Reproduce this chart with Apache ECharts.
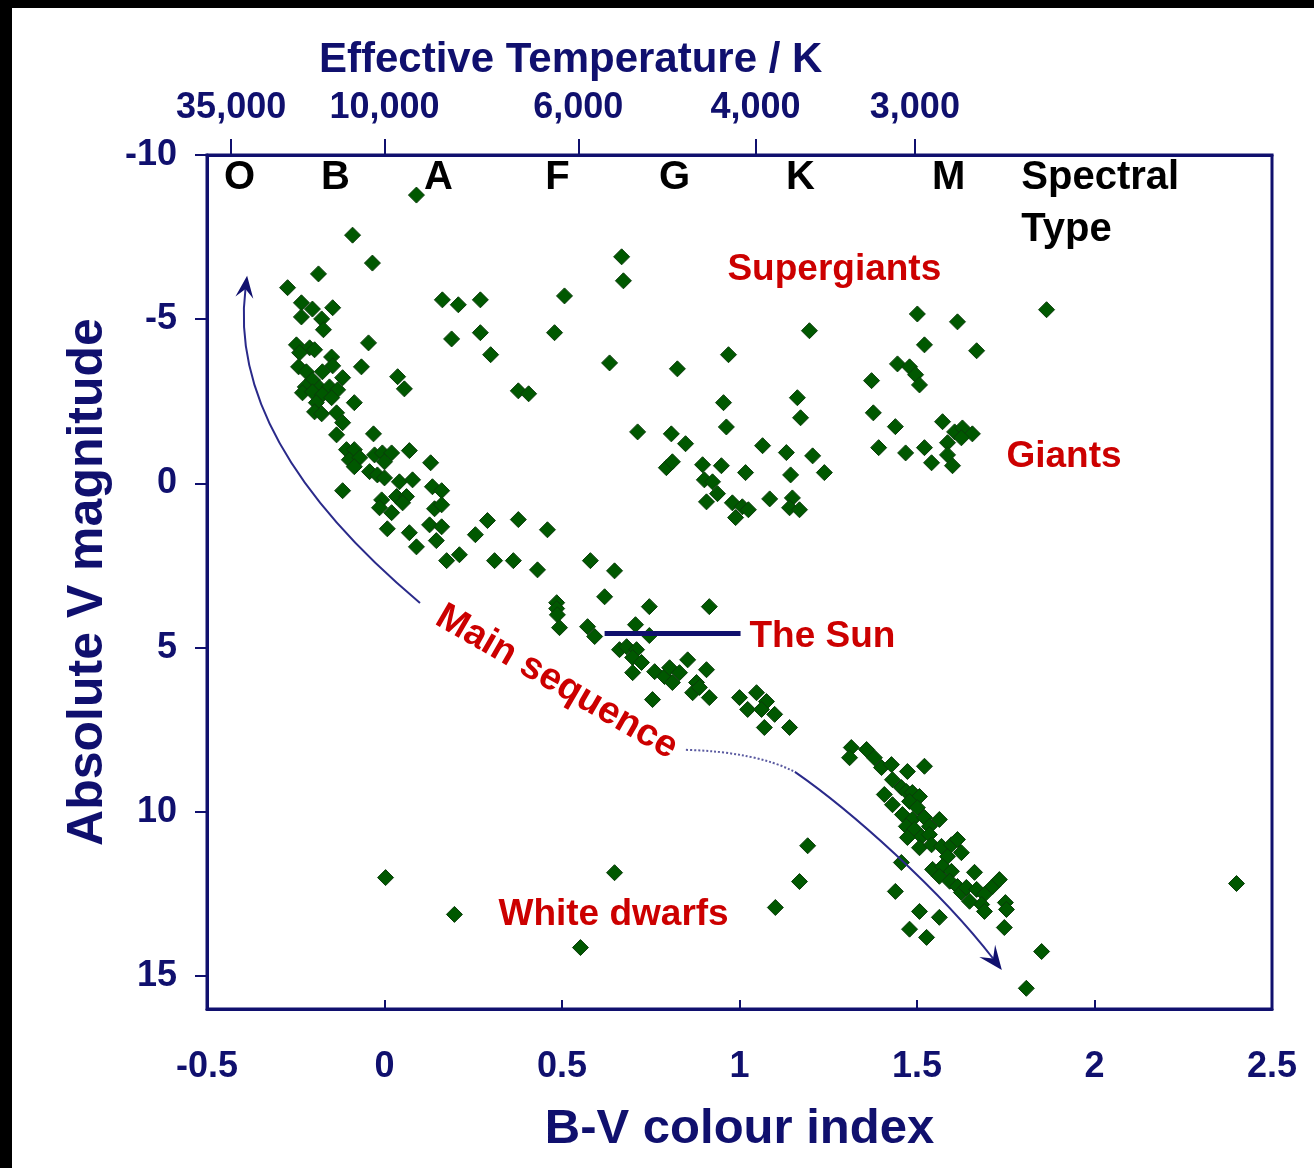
<!DOCTYPE html>
<html><head><meta charset="utf-8">
<script src="https://cdn.jsdelivr.net/npm/echarts@6/dist/echarts.min.js"></script>
<style>
html,body{margin:0;padding:0;background:#000;width:1314px;height:1168px;overflow:hidden}
#chart{position:absolute;left:12px;top:8px;width:1302px;height:1160px;background:#fff}
</style></head><body><div id="chart"></div>
<script>
// ---- data: [B-V colour index, absolute V magnitude] ----
const mainSequence = [
[-0.034,-6.71],[-0.186,-6.38],[-0.273,-5.96],[-0.234,-5.50],[-0.203,-5.31],[-0.146,-5.35],[-0.234,-5.07],[-0.177,-5.01],
[-0.172,-4.68],[-0.045,-4.28],[-0.248,-4.22],[-0.211,-4.13],[-0.197,-4.07],[-0.239,-3.98],[-0.149,-3.85],[-0.065,-3.55],
[-0.242,-3.55],[-0.146,-3.58],[-0.220,-3.40],[-0.175,-3.40],[-0.118,-3.22],[-0.203,-3.15],[-0.223,-2.94],[-0.183,-2.91],
[-0.155,-2.94],[-0.132,-2.85],[0.037,-3.25],[0.056,-2.88],[-0.231,-2.76],[-0.203,-2.79],[-0.175,-2.70],[-0.149,-2.61],
[-0.192,-2.46],[-0.085,-2.46],[-0.197,-2.18],[-0.177,-2.12],[-0.135,-2.15],[-0.118,-1.85],[-0.135,-1.48],[-0.031,-1.51],
[-0.107,-1.03],[-0.085,-1.03],[-0.099,-0.72],[-0.070,-0.78],[-0.085,-0.51],[-0.028,-0.87],[-0.006,-0.93],[0.020,-0.93],
[0.000,-0.66],[-0.042,-0.36],[-0.020,-0.26],[0.000,-0.17],[0.070,-1.00],[0.130,-0.63],[0.042,-0.05],[0.079,-0.11],
[0.135,0.10],[0.161,0.22],[-0.118,0.22],[-0.008,0.50],[0.034,0.40],[0.062,0.40],[-0.014,0.74],[0.020,0.89],
[0.051,0.59],[0.141,0.77],[0.161,0.65],[0.127,1.26],[0.161,1.32],[0.008,1.38],[0.070,1.50],[0.146,1.74],
[0.090,1.93],[0.175,2.35],[0.211,2.17],
[0.290,1.13],[0.256,1.56],[0.377,1.10],[0.459,1.41],[0.310,2.35],[0.363,2.35],[0.431,2.63],[0.580,2.35],
[0.648,2.66],[0.620,3.45],[0.485,3.63],[0.485,3.81],[0.487,4.00],[0.493,4.39],[0.746,3.75],[0.915,3.75],
[0.572,4.36],[0.592,4.66],[0.707,4.30],[0.746,4.63],[0.662,5.06],[0.682,4.97],[0.710,5.06],[0.699,5.30],
[0.724,5.45],[0.699,5.76],[0.761,5.73],[0.789,5.88],[0.803,5.61],[0.831,5.76],[0.811,6.06],[0.854,5.37],
[0.907,5.67],[0.879,6.06],[0.868,6.37],[0.915,6.52],[0.755,6.58],[1.000,6.52],[1.048,6.37],[1.076,6.64],
[1.023,6.88],[1.062,6.88],[1.099,7.03],[1.070,7.43],[1.141,7.43],[0.887,6.21]
];
const brightStars = [
[-0.090,-7.56],[0.090,-8.78],[0.163,-5.59],[0.208,-5.44],[0.189,-4.40],[0.270,-5.59],[0.270,-4.59],[0.299,-3.92],
[0.507,-5.71],[0.479,-4.59],[0.668,-6.90],[0.673,-6.17],[0.634,-3.67],[0.377,-2.82],[0.406,-2.73],[0.825,-3.49],
[0.969,-3.92],[1.197,-4.65],[1.501,-5.16],[1.614,-4.92],[1.865,-5.29],[1.521,-4.22],[1.668,-4.04]
];
const giants = [
[0.713,-1.57],[0.955,-2.46],[1.163,-2.61],[0.963,-1.72],[1.172,-2.00],[0.808,-1.51],[0.848,-1.21],[1.065,-1.15],
[1.132,-0.94],[1.206,-0.84],[0.794,-0.48],[0.811,-0.66],[0.896,-0.57],[0.949,-0.54],[1.017,-0.33],[1.144,-0.26],
[1.239,-0.33],[0.901,-0.11],[0.924,-0.05],[0.938,0.31],[0.907,0.56],[0.980,0.59],[1.008,0.71],[1.025,0.80],
[0.989,1.04],[1.085,0.47],[1.149,0.44],[1.141,0.74],[1.169,0.80],
[1.445,-3.64],[1.479,-3.55],[1.496,-3.31],[1.507,-3.00],[1.372,-3.13],[1.377,-2.15],[1.439,-1.73],[1.572,-1.88],
[1.606,-1.57],[1.628,-1.69],[1.656,-1.51],[1.625,-1.39],[1.392,-1.09],[1.468,-0.93],[1.521,-1.09],[1.586,-1.24],
[1.541,-0.63],[1.586,-0.87],[1.600,-0.54]
];
const redDwarfs = [
[1.315,8.04],[1.310,8.35],[1.358,8.10],[1.380,8.35],[1.400,8.65],[1.428,8.56],[1.431,9.02],[1.473,8.77],
[1.521,8.61],[1.408,9.47],[1.431,9.78],[1.456,9.26],[1.470,9.38],[1.487,9.41],[1.507,9.53],[1.479,9.68],
[1.501,9.87],[1.459,10.08],[1.487,10.23],[1.521,10.17],[1.563,10.23],[1.535,10.44],[1.470,10.44],[1.493,10.53],
[1.513,10.75],[1.535,10.69],[1.473,10.78],[1.507,11.09],[1.541,11.00],[1.569,11.05],[1.597,11.00],[1.614,10.84],
[1.625,11.24],[1.586,11.36],[1.544,11.75],[1.572,11.66],[1.597,11.81],[1.563,11.96],[1.592,12.11],[1.614,12.27],
[1.625,12.45],[1.639,12.30],[1.662,11.84],[1.668,12.36],[1.690,12.51],[1.713,12.27],[1.732,12.06],[1.648,12.72],
[1.682,12.82],[1.690,13.03],[1.749,12.76],[1.752,12.97],[1.746,13.52],[1.456,11.54],[1.439,12.42],[1.507,13.03],
[1.563,13.21],[1.479,13.57],[1.527,13.82],[1.851,14.25],[1.808,15.37]
];
const whiteDwarfs = [
[0.003,12.00],[0.197,13.12],[0.552,14.13],[0.648,11.85],[1.101,12.91],[1.169,12.12],[1.192,11.03],[2.400,12.18]
];

// ---- axes / tick labels ----
const xTicks = [-0.5, 0, 0.5, 1, 1.5, 2, 2.5];
const yTicks = [-10, -5, 0, 5, 10, 15];
const tempLabels = ['35,000', '10,000', '6,000', '4,000', '3,000'];
const tempPositions = [-0.432, 0, 0.546, 1.045, 1.494];

// ---- annotations (data coordinates) ----
const spectralTypes = ['O', 'B', 'A', 'F', 'G', 'K', 'M'];
const spectralPositions = [-0.408, -0.138, 0.152, 0.487, 0.817, 1.172, 1.589];
const spectralRowY = -9.30;
const spectralCaption = ['Spectral', 'Type'];
const spectralCaptionX = 1.794;
const spectralCaptionY = [-9.30, -7.71];
const regionLabels = ['Supergiants', 'Giants', 'The Sun', 'White dwarfs'];
const regionLabelX = [0.966, 1.752, 1.028, 0.321];
const regionLabelY = [-6.50, -0.81, 4.67, 13.12];
const mainSeqLabel = 'Main sequence';
const mainSeqLabelPos = [0.485, 6.05];
const sunLineX = [0.620, 1.003];
const sunLineY = 4.57;
const upperArrow = [[0.100, 3.64], [-0.445, -1.31], [-0.387, -6.32]];
const lowerArrowDotted = [[0.849, 8.11], [1.044, 8.17], [1.156, 8.78]];
const lowerArrowSolid = [[1.156, 8.78], [1.311, 9.94], [1.565, 12.37], [1.739, 14.81]];

const NAVY = '#10106e';
const RED = '#cc0000';
const FONT = '"Liberation Sans", Arial, sans-serif';

const chart = echarts.init(document.getElementById('chart'));

function arrowHead(tip, from, L, W) {
  const dx = tip[0] - from[0], dy = tip[1] - from[1];
  const len = Math.hypot(dx, dy) || 1;
  const ux = dx / len, uy = dy / len, nx = -uy, ny = ux;
  return [
    [tip[0], tip[1]],
    [tip[0] - ux * L + nx * W, tip[1] - uy * L + ny * W],
    [tip[0] - ux * L * 0.6, tip[1] - uy * L * 0.6],
    [tip[0] - ux * L - nx * W, tip[1] - uy * L - ny * W]
  ];
}

function starSeries(name, data) {
  return {
    name: name, type: 'scatter', data: data, symbol: 'diamond', symbolSize: 16,
    itemStyle: { color: '#005800', borderColor: '#0b3d0b', borderWidth: 1, opacity: 1 },
    silent: true, z: 3
  };
}

const annotationSeries = {
  type: 'custom', coordinateSystem: 'cartesian2d', data: [[0, 0]], silent: true, z: 4,
  renderItem: function (params, api) {
    const P = p => api.coord(p);
    const ch = [];
    // Sun marker line
    const s0 = P([sunLineX[0], sunLineY]), s1 = P([sunLineX[1], sunLineY]);
    ch.push({ type: 'line', shape: { x1: s0[0], y1: s0[1], x2: s1[0], y2: s1[1] },
      style: { stroke: NAVY, lineWidth: 5 } });
    // upper arrow (quadratic)
    const a0 = P(upperArrow[0]), a1 = P(upperArrow[1]), a2 = P(upperArrow[2]);
    const ahead = arrowHead(a2, a1, 22, 9);
    const back = ahead[2];
    ch.push({ type: 'bezierCurve', shape: { x1: a0[0], y1: a0[1], cpx1: a1[0], cpy1: a1[1], x2: back[0], y2: back[1] },
      style: { stroke: '#2a2a8a', lineWidth: 2, fill: null } });
    ch.push({ type: 'polygon', shape: { points: ahead }, style: { fill: NAVY } });
    // lower arrow dotted part
    const d0 = P(lowerArrowDotted[0]), d1 = P(lowerArrowDotted[1]), d2 = P(lowerArrowDotted[2]);
    ch.push({ type: 'bezierCurve', shape: { x1: d0[0], y1: d0[1], cpx1: d1[0], cpy1: d1[1], x2: d2[0], y2: d2[1] },
      style: { stroke: '#5a5aa0', lineWidth: 2, lineDash: [2, 2], fill: null } });
    // lower arrow solid part (cubic)
    const c0 = P(lowerArrowSolid[0]), c1 = P(lowerArrowSolid[1]), c2 = P(lowerArrowSolid[2]), c3 = P(lowerArrowSolid[3]);
    const bhead = arrowHead(c3, c2, 24, 10);
    ch.push({ type: 'bezierCurve', shape: { x1: c0[0], y1: c0[1], cpx1: c1[0], cpy1: c1[1], cpx2: c2[0], cpy2: c2[1], x2: bhead[2][0], y2: bhead[2][1] },
      style: { stroke: '#2a2a8a', lineWidth: 2, fill: null } });
    ch.push({ type: 'polygon', shape: { points: bhead }, style: { fill: NAVY } });
    // spectral type letters
    spectralTypes.forEach((t, i) => {
      const p = P([spectralPositions[i], spectralRowY]);
      ch.push({ type: 'text', x: p[0], y: p[1],
        style: { text: t, fill: '#000', font: 'bold 40px ' + FONT, align: 'center', verticalAlign: 'middle' } });
    });
    spectralCaption.forEach((t, i) => {
      const p = P([spectralCaptionX, spectralCaptionY[i]]);
      ch.push({ type: 'text', x: p[0], y: p[1],
        style: { text: t, fill: '#000', font: 'bold 40px ' + FONT, align: 'left', verticalAlign: 'middle' } });
    });
    // region labels
    regionLabels.forEach((t, i) => {
      const p = P([regionLabelX[i], regionLabelY[i]]);
      ch.push({ type: 'text', x: p[0], y: p[1],
        style: { text: t, fill: RED, font: 'bold 37px ' + FONT, align: 'left', verticalAlign: 'middle' } });
    });
    const m = P(mainSeqLabelPos);
    ch.push({ type: 'text', x: m[0], y: m[1], rotation: -30 * Math.PI / 180,
      style: { text: mainSeqLabel, fill: RED, font: 'bold 38px ' + FONT, align: 'center', verticalAlign: 'middle' } });
    return { type: 'group', children: ch };
  }
};

const labelBase = { color: NAVY, fontFamily: FONT, fontWeight: 'bold', fontSize: 36 };

chart.setOption({
  animation: false,
  backgroundColor: '#fff',
  title: {
    text: 'Effective Temperature / K', left: 302, top: 26,
    textStyle: { color: NAVY, fontFamily: FONT, fontWeight: 'bold', fontSize: 42 }
  },
  grid: { left: 195, top: 147, width: 1065, height: 854, show: true, borderColor: NAVY, borderWidth: 3, containLabel: false },
  xAxis: [
    {
      type: 'value', position: 'bottom', min: -0.5, max: 2.5, interval: 0.5,
      name: 'B-V colour index', nameLocation: 'middle', nameGap: 96,
      nameTextStyle: { color: NAVY, fontFamily: FONT, fontWeight: 'bold', fontSize: 49 },
      axisLine: { show: true, onZero: false, lineStyle: { color: NAVY, width: 3 } },
      axisTick: { show: true, inside: true, length: 9, lineStyle: { color: NAVY, width: 2 }, customValues: xTicks },
      axisLabel: Object.assign({ margin: 40, customValues: xTicks }, labelBase),
      splitLine: { show: false }
    },
    {
      type: 'value', position: 'top', min: -0.5, max: 2.5,
      axisLine: { show: true, onZero: false, lineStyle: { color: NAVY, width: 3 } },
      axisTick: { show: true, inside: false, length: 16, lineStyle: { color: NAVY, width: 2 }, customValues: tempPositions },
      axisLabel: Object.assign({ margin: 29, customValues: tempPositions,
        formatter: function (v) {
          let best = 0;
          tempPositions.forEach((p, i) => { if (Math.abs(p - v) < Math.abs(tempPositions[best] - v)) best = i; });
          return tempLabels[best];
        } }, labelBase),
      splitLine: { show: false }
    }
  ],
  yAxis: {
    type: 'value', inverse: true, min: -10, max: 16, interval: 5,
    name: 'Absolute V magnitude', nameLocation: 'middle', nameGap: 94, nameRotate: 90,
    nameTextStyle: { color: NAVY, fontFamily: FONT, fontWeight: 'bold', fontSize: 50 },
    axisLine: { show: true, onZero: false, lineStyle: { color: NAVY, width: 3 } },
    axisTick: { show: true, inside: false, length: 12, lineStyle: { color: NAVY, width: 2 }, customValues: yTicks },
    axisLabel: Object.assign({ margin: 30, customValues: yTicks }, labelBase),
    splitLine: { show: false }
  },
  series: [
    starSeries('Main sequence', mainSequence),
    starSeries('Bright stars', brightStars),
    starSeries('Giants', giants),
    starSeries('Red dwarfs', redDwarfs),
    starSeries('White dwarfs', whiteDwarfs),
    annotationSeries
  ]
});
</script></body></html>
